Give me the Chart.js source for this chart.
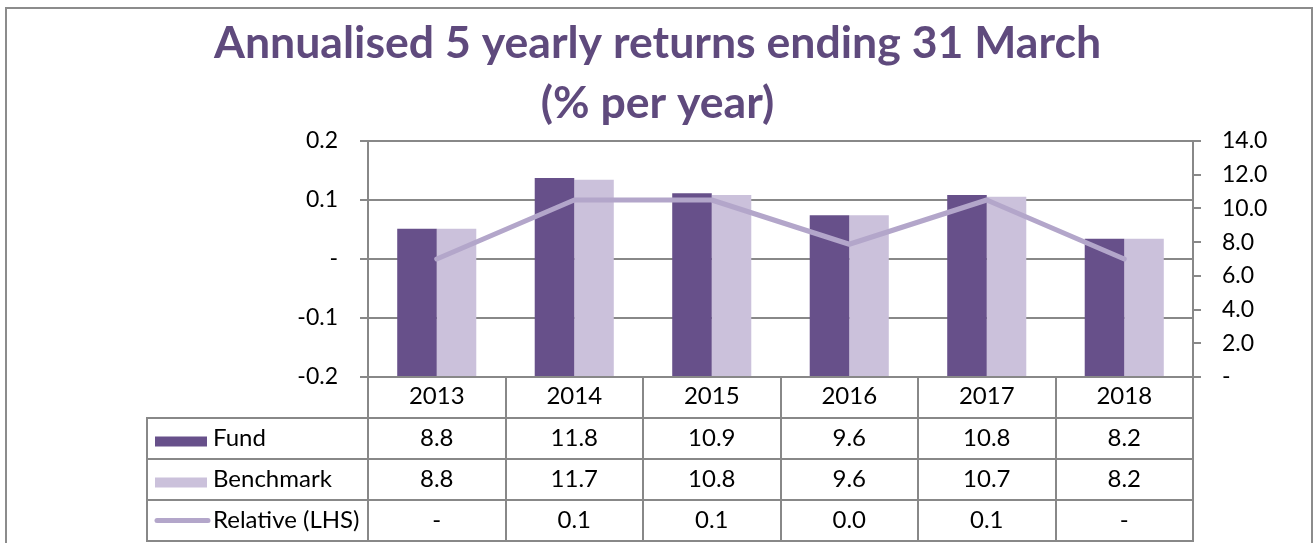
<!DOCTYPE html>
<html><head><meta charset="utf-8">
<script src="https://cdn.jsdelivr.net/npm/chart.js@4/dist/chart.umd.min.js"></script>
<style>html,body{margin:0;padding:0;background:#fff;overflow:hidden}#wrap{width:1315px;height:543px;position:relative}</style>
</head><body><div id="wrap"><canvas id="c" width="1315" height="543"></canvas></div>
<script>
const titleLines = ['Annualised 5 yearly returns ending 31 March', '(% per year)'];
const years = ['2013', '2014', '2015', '2016', '2017', '2018'];
const fund = [8.8, 11.8, 10.9, 9.6, 10.8, 8.2];
const benchmark = [8.8, 11.7, 10.8, 9.6, 10.7, 8.2];
const relative = [0, 0.1, 0.1, 0.025, 0.1, 0];
const seriesNames = ['Fund', 'Benchmark', 'Relative (LHS)'];

const FUND_C = '#67508A';
const BENCH_C = '#CBC1DB';
const REL_C = '#B3A6CA';
const TITLE_C = '#5F4A7D';
const GRID_C = '#888888';
const FONT = 'Lato';

Chart.defaults.font.family = FONT;
Chart.defaults.color = '#000';

const fmt = v => Math.abs(v) < 1e-9 ? '-' : v.toFixed(1);

const framePlugin = {
  id: 'frame',
  beforeDraw(chart) {
    const ctx = chart.ctx;
    ctx.save();
    ctx.fillStyle = '#fff';
    ctx.fillRect(0, 0, chart.width, chart.height);
    ctx.strokeStyle = '#8c8c8c';
    ctx.lineWidth = 2;
    ctx.beginPath();
    ctx.moveTo(6, chart.height + 5);
    ctx.lineTo(6, 8);
    ctx.lineTo(1312, 8);
    ctx.lineTo(1312, chart.height + 5);
    ctx.stroke();
    ctx.restore();
  }
};

const tablePlugin = {
  id: 'dataTable',
  afterDraw(chart) {
    const ctx = chart.ctx;
    const a = chart.chartArea;
    const x = chart.scales.x;
    const centers = years.map((_, i) => x.getPixelForValue(i));
    const half = (centers[1] - centers[0]) / 2;
    const top = a.bottom;
    const rowH = 41;
    const legendLeft = 147;
    ctx.save();
    ctx.strokeStyle = GRID_C;
    ctx.lineWidth = 2;
    ctx.beginPath();
    for (let r = 1; r <= 4; r++) {
      const y = top + r * rowH;
      ctx.moveTo(legendLeft - 1, y);
      ctx.lineTo(a.right + 1, y);
    }
    const bounds = [a.left].concat(centers.slice(0, -1).map(c => Math.round(c + half))).concat([a.right]);
    bounds.forEach(xx => { ctx.moveTo(xx, top); ctx.lineTo(xx, top + 4 * rowH); });
    ctx.moveTo(legendLeft, top + rowH);
    ctx.lineTo(legendLeft, top + 4 * rowH);
    ctx.stroke();

    ctx.fillStyle = '#000';
    ctx.font = '24px ' + FONT;
    ctx.textAlign = 'center';
    ctx.textBaseline = 'alphabetic';
    years.forEach((yr, i) => ctx.fillText(yr, centers[i], top + 27));
    const rows = [fund, benchmark, relative];
    rows.forEach((arr, r) => {
      const rt = top + (r + 1) * rowH;
      arr.forEach((v, i) => ctx.fillText(fmt(v), centers[i], rt + 28));
    });
    ctx.textAlign = 'left';
    const keyL = 155, keyW = 52;
    seriesNames.forEach((name, r) => {
      const rt = top + (r + 1) * rowH;
      const cy = rt + rowH / 2;
      if (r < 2) {
        ctx.fillStyle = r === 0 ? FUND_C : BENCH_C;
        ctx.fillRect(keyL, cy - 2, keyW, 10);
      } else {
        ctx.strokeStyle = REL_C;
        ctx.lineWidth = 5;
        ctx.lineCap = 'round';
        ctx.beginPath();
        ctx.moveTo(keyL + 2, cy);
        ctx.lineTo(keyL + keyW + 1, cy);
        ctx.stroke();
      }
      ctx.fillStyle = '#000';
      ctx.fillText(name, 213, rt + 28);
    });
    ctx.restore();
  }
};

new Chart(document.getElementById('c'), {
  type: 'bar',
  data: {
    labels: years,
    datasets: [
      { type: 'line', label: seriesNames[2], data: relative, yAxisID: 'y', borderColor: REL_C, borderWidth: 5, pointRadius: 0, tension: 0, order: 0, borderCapStyle: 'round', borderJoinStyle: 'round' },
      { label: seriesNames[0], data: fund, yAxisID: 'y1', backgroundColor: FUND_C, order: 1, categoryPercentage: 0.575, barPercentage: 1 },
      { label: seriesNames[1], data: benchmark, yAxisID: 'y1', backgroundColor: BENCH_C, order: 2, categoryPercentage: 0.575, barPercentage: 1 }
    ]
  },
  options: {
    responsive: false,
    devicePixelRatio: 1,
    animation: false,
    layout: { padding: { left: 0, right: 0, top: 0, bottom: 166 } },
    plugins: {
      legend: { display: false },
      tooltip: { enabled: false },
      title: {
        display: true,
        text: titleLines,
        color: TITLE_C,
        font: { family: FONT, size: 44.6, weight: 'bold', lineHeight: 60 / 44.6 },
        padding: { top: 14, bottom: 7 }
      }
    },
    scales: {
      x: { display: false, offset: true },
      y: {
        position: 'left',
        min: -0.2, max: 0.2,
        ticks: { stepSize: 0.1, padding: 22, font: { size: 23 }, color: '#000', callback: v => fmt(v) },
        grid: { color: GRID_C, lineWidth: 2, tickLength: 8, drawTicks: true },
        border: { display: true, color: GRID_C, width: 2 },
        afterFit: s => { s.width = 368; }
      },
      y1: {
        position: 'right',
        min: 0, max: 14,
        ticks: { stepSize: 2, padding: 21, font: { size: 23 }, color: '#000', callback: v => fmt(v) },
        grid: { drawOnChartArea: false, color: GRID_C, lineWidth: 2, tickLength: 8 },
        border: { display: true, color: GRID_C, width: 2 },
        afterFit: s => { s.width = 122; }
      }
    }
  },
  plugins: [framePlugin, tablePlugin]
});
</script>
</body></html>
